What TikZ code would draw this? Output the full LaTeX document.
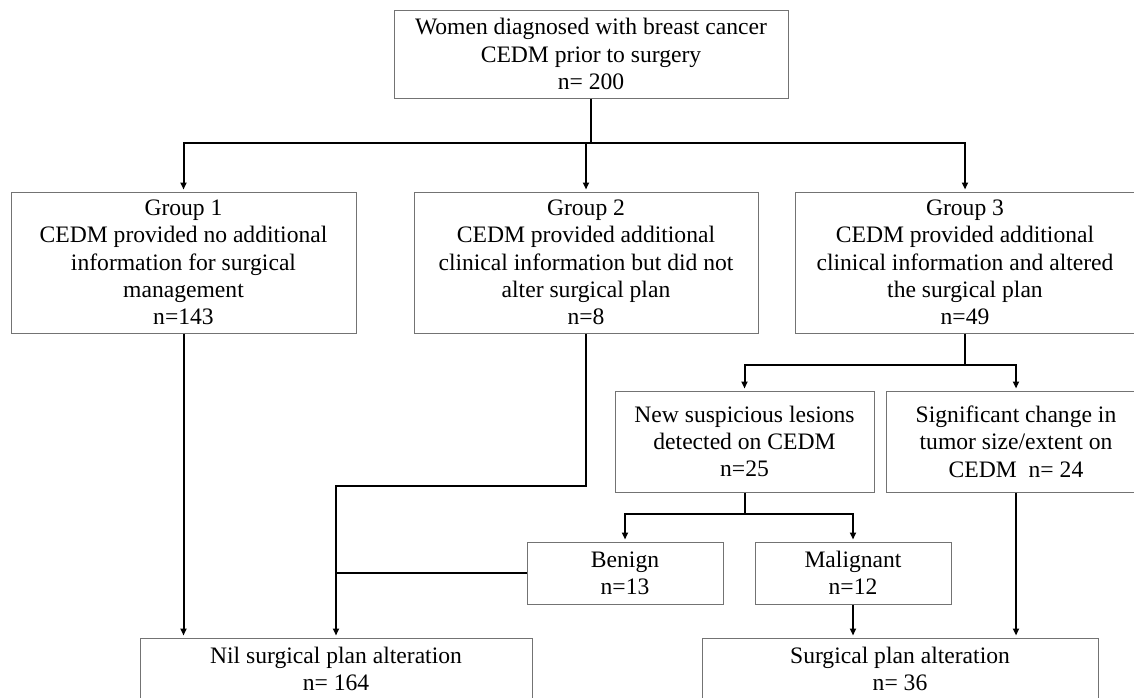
\documentclass[tikz,border=0pt]{standalone}
\usepackage{fontspec}
\setmainfont{Liberation Serif}
\usetikzlibrary{arrows.meta}

\tikzset{
  box/.style={draw=black!55, line width=1pt, align=center, inner sep=0pt,
    font=\fontsize{23.6}{27.3}\selectfont},
  conn/.style={line width=2pt},
  arr/.style={conn, -{Triangle[length=7pt,width=6pt]}, shorten >=2pt}
}

\begin{document}
\begin{tikzpicture}[x=1pt, y=-1pt]
        \clip (0,0) rectangle (1134,697);
        \fill[white] (0,0) rectangle (1134,697);

        \node[box, minimum width=394, minimum height=88] (top) at (591,54)
            {Women diagnosed with breast cancer\\CEDM prior to surgery\\n= 200};

        \node[box, minimum width=345, minimum height=141] (g1) at (183.5,262.5)
            {Group 1\\CEDM provided no additional\\information for surgical\\management\\n=143};
        \node[box, minimum width=344, minimum height=141] (g2) at (586,262.5)
            {Group 2\\CEDM provided additional\\clinical information but did not\\alter surgical plan\\n=8};
        \node[box, minimum width=340, minimum height=141] (g3) at (965,262.5)
            {Group 3\\CEDM provided additional\\clinical information and altered\\the surgical plan\\n=49};

        \node[box, minimum width=259, minimum height=101] (new) at (744.5,441.5)
            {New suspicious lesions\\detected on CEDM\\n=25};
        \node[box, minimum width=260, minimum height=101] (sig) at (1016,441.5)
            {Significant change in\\tumor size/extent on\\CEDM\ \ n= 24};

        \node[box, minimum width=196, minimum height=62] (benign) at (625,573)
            {Benign\\n=13};
        \node[box, minimum width=196, minimum height=62] (malig) at (853,573)
            {Malignant\\n=12};

        \node[box, minimum width=392, minimum height=62] (nil) at (336,669)
            {Nil surgical plan alteration\\n= 164};
        \node[box, minimum width=396, minimum height=62] (surg) at (900,669)
            {Surgical plan alteration\\n= 36};

        % top split
        \draw[conn] (top.south) -- ++(0,44) coordinate (s0);
        \foreach \g in {g1, g2, g3}
            \draw[arr] (s0) -| (\g.north);

        % group 1 and 2 to nil
        \draw[arr] (g1.south) -- (g1.south |- nil.north);
        \coordinate (j2) at (586,486);
        \draw[arr] (g2.south) -- (j2) -| (nil.north);
        \draw[conn] (benign.west) -- (benign.west -| nil.north);

        % group 3 split
        \draw[conn] (g3.south) -- ++(0,31) coordinate (s3);
        \draw[arr] (s3) -| (new.north);
        \draw[arr] (s3) -| (sig.north);

        % new lesions split
        \draw[conn] (new.south) -- ++(0,21) coordinate (s4);
        \draw[arr] (s4) -| (benign.north);
        \draw[arr] (s4) -| (malig.north);

        % to surgical plan alteration
        \draw[arr] (malig.south) -- (malig.south |- surg.north);
        \draw[arr] (sig.south) -- (sig.south |- surg.north);
    \end{tikzpicture}
\end{document}
